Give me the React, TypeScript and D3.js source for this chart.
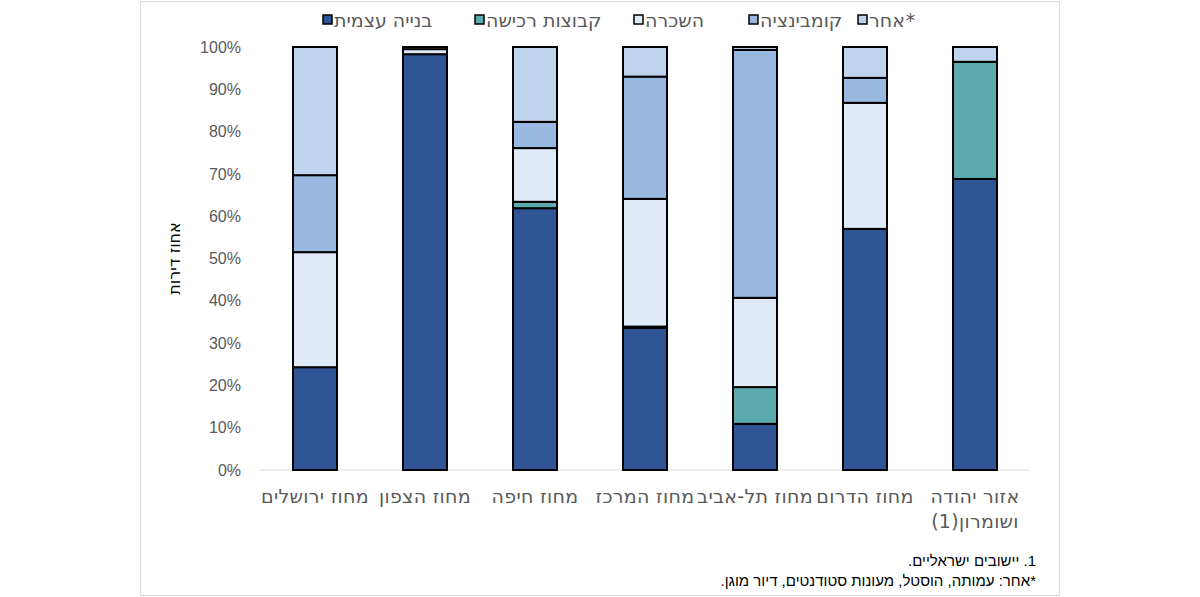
import { useEffect, useRef } from 'react';
import * as d3 from 'd3';

// Regions (left to right as drawn)
const categories = [
  'מחוז ירושלים',
  'מחוז הצפון',
  'מחוז חיפה',
  'מחוז המרכז',
  'מחוז תל-אביב',
  'מחוז הדרום',
  'אזור יהודה|ושומרון(1)',
];

const seriesNames = ['בנייה עצמית', 'קבוצות רכישה', 'השכרה', 'קומבינציה', 'אחר*'];
const seriesColors = ['#2F5597', '#5BAAAE', '#DEEAF6', '#98B8E0', '#BFD3EC'];

// percent of apartments per region
const selfBuild = [24.3, 98.3, 61.9, 33.6, 10.9, 57.0, 68.8];
const buyingGroups = [0, 0, 1.5, 0.3, 8.7, 0, 27.7];
const rental = [27.2, 1.2, 12.7, 30.2, 21.1, 29.8, 0];
const combination = [18.2, 0, 6.2, 28.9, 58.6, 5.9, 0];
const other = [30.3, 0.5, 17.7, 7.0, 0.7, 7.3, 3.5];

const yTicks = [0, 10, 20, 30, 40, 50, 60, 70, 80, 90, 100];

const footnotes = ['1. יישובים ישראליים.', '*אחר: עמותה, הוסטל, מעונות סטודנטים, דיור מוגן.'];

const FONT = '"Liberation Sans", Arial, sans-serif';
const HEB = '"DejaVu Sans", "Liberation Sans", sans-serif';

export default function App() {
  const svgRef = useRef<SVGSVGElement>(null);

  useEffect(() => {
    if (!svgRef.current) return;
    const width = 1200;
    const height = 597;
    const svg = d3.select(svgRef.current);
    svg.selectAll('*').remove();
    svg.attr('width', width).attr('height', height);

    // chart frame
    svg
      .append('rect')
      .attr('x', 140.5)
      .attr('y', 1.5)
      .attr('width', 919)
      .attr('height', 594)
      .attr('fill', '#fff')
      .attr('stroke', '#D9D9D9');

    const table = categories.map((c, i) => ({
      cat: c,
      s0: selfBuild[i],
      s1: buyingGroups[i],
      s2: rental[i],
      s3: combination[i],
      s4: other[i],
    }));
    const keys = ['s0', 's1', 's2', 's3', 's4'];
    const stacked = d3.stack<any>().keys(keys)(table);

    const x = d3
      .scaleBand()
      .domain(categories)
      .range([260, 1030])
      .paddingInner(0.6)
      .paddingOuter(0.3);
    const y = d3.scaleLinear().domain([0, 100]).range([470, 47]);

    // baseline
    svg
      .append('line')
      .attr('x1', 260)
      .attr('x2', 1030)
      .attr('y1', y(0))
      .attr('y2', y(0))
      .attr('stroke', '#D9D9D9')
      .attr('stroke-width', 1);

    // y ticks
    svg
      .selectAll('.ytick')
      .data(yTicks)
      .enter()
      .append('text')
      .attr('x', 241)
      .attr('y', (d) => y(d))
      .attr('dy', '0.35em')
      .attr('text-anchor', 'end')
      .attr('font-family', FONT)
      .attr('font-size', 16)
      .attr('fill', '#595959')
      .text((d) => `${d}%`);

    // y axis title
    svg
      .append('text')
      .attr('transform', `translate(180, ${y(50)}) rotate(-90)`)
      .attr('text-anchor', 'middle')
      .attr('font-family', HEB)
      .attr('font-size', 16)
      .attr('fill', '#000')
      .text('אחוז דירות');

    // bars
    stacked.forEach((layer, li) => {
      svg
        .append('g')
        .selectAll('rect')
        .data(layer.filter((d) => d[1] - d[0] > 0))
        .enter()
        .append('rect')
        .attr('x', (d) => x(d.data.cat) as number)
        .attr('width', x.bandwidth())
        .attr('y', (d) => y(d[1]))
        .attr('height', (d) => y(d[0]) - y(d[1]))
        .attr('fill', seriesColors[li])
        .attr('stroke', '#000')
        .attr('stroke-width', 2);
    });

    // category labels
    const catG = svg
      .selectAll('.cat')
      .data(categories)
      .enter()
      .append('text')
      .attr('text-anchor', 'middle')
      .attr('font-family', HEB)
      .attr('font-size', 19)
      .attr('letter-spacing', 0.3)
      .attr('fill', '#595959');
    catG
      .selectAll('tspan')
      .data((d) => d.split('|').map((t) => ({ t, c: d })))
      .enter()
      .append('tspan')
      .attr('x', (d) => (x(d.c) as number) + x.bandwidth() / 2)
      .attr('y', (_d, i) => 503 + i * 25)
      .text((d) => d.t);

    // legend
    const legendX = [323, 475, 634, 749, 858];
    seriesNames.forEach((name, i) => {
      svg
        .append('rect')
        .attr('x', legendX[i])
        .attr('y', 15)
        .attr('width', 9)
        .attr('height', 9)
        .attr('fill', seriesColors[i])
        .attr('stroke', '#000')
        .attr('stroke-width', 1.5);
      const star = name.endsWith('*');
      const label = svg
        .append('text')
        .attr('x', legendX[i] + 11)
        .attr('y', 27)
        .attr('font-family', HEB)
        .attr('font-size', 19)
        .attr('fill', '#595959')
        .text(star ? name.slice(0, -1) : name);
      if (star) {
        const w = (label.node() as SVGTextElement).getComputedTextLength();
        svg
          .append('text')
          .attr('x', legendX[i] + 11 + w + 1)
          .attr('y', 27)
          .attr('font-family', HEB)
          .attr('font-size', 19)
          .attr('fill', '#595959')
          .text('*');
      }
    });

    // footnotes
    footnotes.forEach((f, i) => {
      svg
        .append('text')
        .attr('x', 1036)
        .attr('y', 566 + i * 20)
        .attr('direction', 'rtl')
        .attr('text-anchor', 'start')
        .attr('font-family', FONT)
        .attr('font-size', 15)
        .attr('fill', '#000')
        .text(f);
    });
  }, []);

  return (
    <div>
      <svg ref={svgRef} style={{ position: 'absolute', left: 0, top: 0 }} />
    </div>
  );
}
